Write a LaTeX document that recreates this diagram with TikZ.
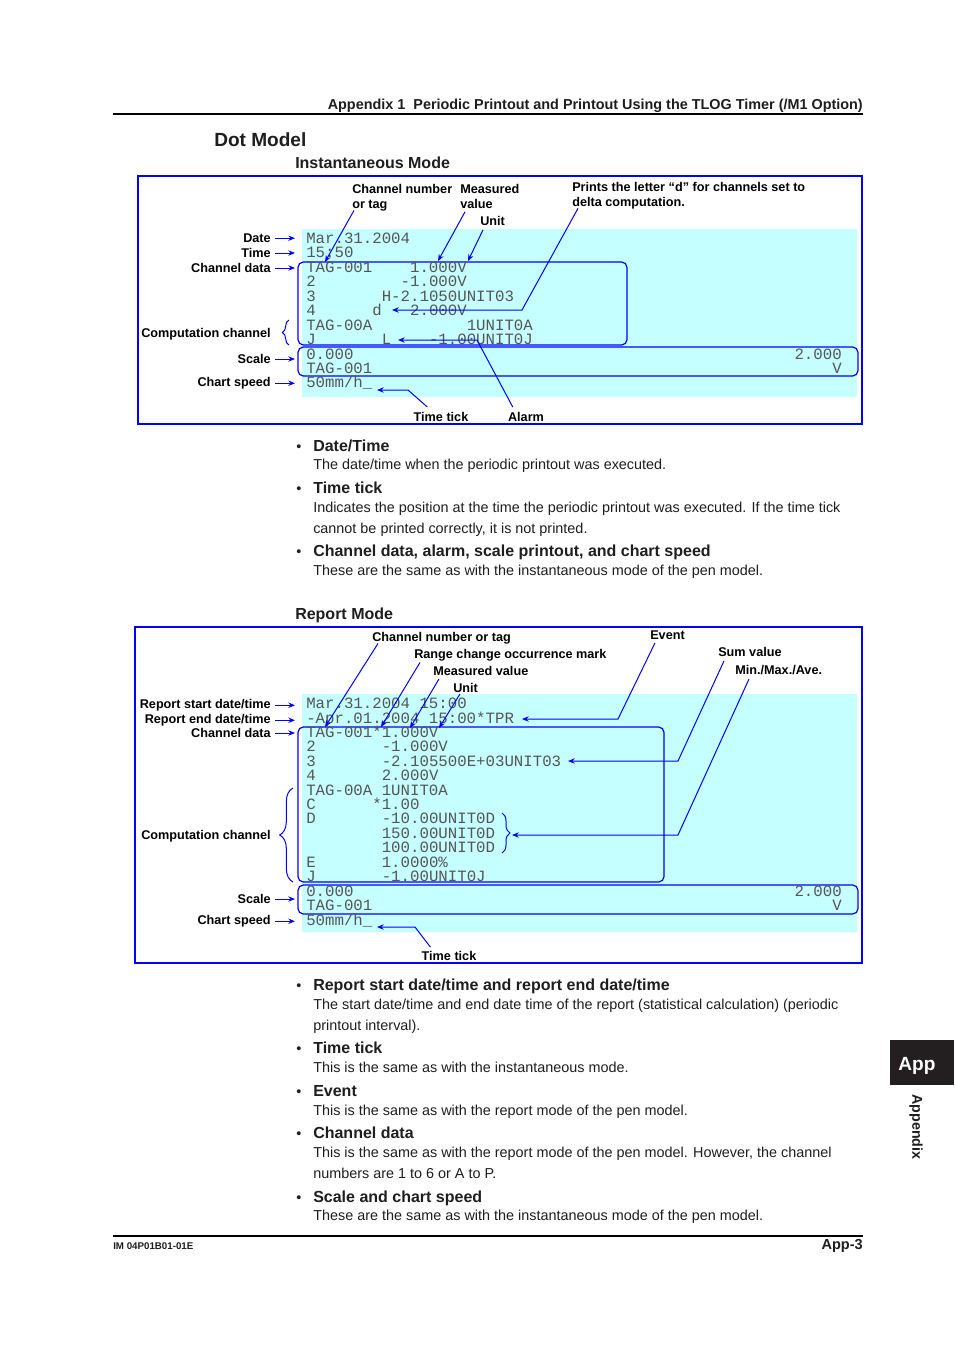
\documentclass[tikz,border=0pt]{standalone}
\usepackage{fontspec}
\setmainfont{Liberation Sans}
\setmonofont{Liberation Mono}
\usetikzlibrary{arrows.meta,decorations.pathreplacing}
\definecolor{prnblue}{RGB}{0,0,255}
\definecolor{papercyan}{RGB}{198,255,255}
\definecolor{inkgray}{RGB}{85,85,85}
\definecolor{bodyink}{RGB}{30,30,30}
\definecolor{tabblack}{RGB}{35,31,32}
\tikzset{
  lbl/.style={font=\bfseries\fontsize{9.5}{11.25}\selectfont, inner sep=0pt, yshift=-1.5pt},
  side/.style={lbl, anchor=mid east},
  tag/.style={lbl, anchor=mid west},
  foot/.style={font=\bfseries\fontsize{9.5}{11.25}\selectfont, inner sep=0pt},
  prn/.style={font=\ttfamily\fontsize{11.8}{13}\selectfont, text=inkgray, inner sep=0pt, anchor=mid west, yshift=-1.5pt},
  prnr/.style={prn, anchor=mid east},
  ptr/.style={-{Stealth[length=5pt,width=4pt]}, draw=prnblue, line width=0.75pt},
  sideptr/.style={ptr, shorten <=3pt},
  frame/.style={draw=prnblue, line width=1pt},
  grp/.style={draw=prnblue, line width=0.9pt, rounded corners=4pt},
  brc/.style={draw=prnblue, line width=0.75pt, decorate, decoration={brace, amplitude=#1}},
  head/.style={font=\bfseries\fontsize{12}{14}\selectfont, text=bodyink, inner sep=0pt, anchor=mid west, yshift=-1.5pt},
  body/.style={font=\fontsize{10.8}{13}\selectfont, text=bodyink, inner sep=0pt, anchor=mid west, yshift=-1.5pt},
  bul/.style={font=\fontsize{10.8}{13}\selectfont, text=bodyink, inner sep=0pt, yshift=-1.5pt}
}

\begin{document}
\begin{tikzpicture}[x=0.75pt, y=-0.75pt]
  \useasboundingbox (0,0) rectangle (954,1350);
  \fill[white] (0,0) rectangle (954,1350);

  % page header
  \node[font=\bfseries\fontsize{10.8}{12}\selectfont, text=bodyink, inner sep=0pt, anchor=mid east, yshift=-1.5pt] (hdr) at (863,104) {Appendix 1\ \ Periodic Printout and Printout Using the TLOG Timer (/M1 Option)};
  \draw[line width=0.8pt] (113,114) -- (863,114);
  \node[font=\bfseries\fontsize{14.3}{16}\selectfont, text=bodyink, inner sep=0pt, anchor=mid west, yshift=-2pt] (dotmodel) at (214,140) {Dot Model};
  \node[head] (instmode) at (295,163) {Instantaneous Mode};

  % ---- instantaneous mode printout
  \draw[frame] (138,176) rectangle (862,424);
  \fill[papercyan] (302,229) rectangle (857,397);
  \draw[grp] (298,262) rectangle (627,345);
  \draw[grp] (298,347) rectangle (858,376);
  \node[prn] (t1) at (306,238) {Mar.31.2004};
  \node[prn] (t2) at (306,252) {15:50};
  \node[prn] (t3) at (306,267) {TAG-001~~~~1.000V};
  \node[prn] (t4) at (306,281) {2~~~~~~~~~-1.000V};
  \node[prn] (t5) at (306,296) {3~~~~~~~H-2.1050UNIT03};
  \node[prn] (t6) at (306,310) {4~~~~~~d~~~2.000V};
  \node[prn] (t7) at (306,325) {TAG-00A~~~~~~~~~~1UNIT0A};
  \node[prn] (t8) at (306,339) {J~~~~~~~L~~~~-1.00UNIT0J};
  \node[prn] (t9) at (306,354) {0.000};
  \node[prnr] (t9r) at (842,354) {2.000};
  \node[prn] (t10) at (306,368) {TAG-001};
  \node[prnr] (t10r) at (842,368) {V};
  \node[prn] (t11) at (306,382) {50mm/h\_};

  \coordinate (edge) at (295,0);
  \node[side] (sDate) at (271,237) {Date};
  \node[side] (sTime) at (271,252) {Time};
  \node[side] (sChan) at (271,267) {Channel data};
  \node[side] (sComp) at (271,332) {Computation channel};
  \node[side] (sScale) at (271,358) {Scale};
  \node[side] (sSpeed) at (271,381) {Chart speed};
  \draw[sideptr] (sDate.east) -- (sDate.east -| edge);
  \draw[sideptr] (sTime.east) -- (sTime.east -| edge);
  \draw[sideptr] (sChan.east) -- (sChan.east -| edge);
  \draw[sideptr] (sScale.east) -- (sScale.east -| edge);
  \draw[sideptr] (sSpeed.east) -- (sSpeed.east -| edge);
  \draw[brc=5pt] (289,345) -- (289,320);

  \node[lbl, anchor=north west, align=left] (cTag) at (352,182) {Channel number\\or tag};
  \node[lbl, anchor=north west, align=left] (cVal) at (460,182) {Measured\\value};
  \node[tag] (cUnit) at (480,220) {Unit};
  \node[lbl, anchor=north west, align=left] (cDelta) at (572,180) {Prints the letter “d” for channels set to\\delta computation.};
  \node[foot] (cTick) at (441,417) {Time tick};
  \node[foot] (cAlarm) at (526,417) {Alarm};
  \coordinate (aTag) at (325,262);
  \coordinate (aVal) at (438,261);
  \coordinate (aUnit) at (468,261);
  \coordinate (kDelta) at (522,310);
  \coordinate (aDelta) at (392,310);
  \coordinate (kAlarm) at (477,340);
  \coordinate (aAlarm) at (398,340);
  \coordinate (kTick) at (408,390);
  \coordinate (aTick) at (377,390);
  \draw[ptr] ([shift={(2,-1)}]cTag.south west) -- (aTag);
  \draw[ptr] ([shift={(5,3)}]cVal.south west) -- (aVal);
  \draw[ptr] ([shift={(3,4)}]cUnit.south west) -- (aUnit);
  \draw[ptr] ([shift={(6,-1)}]cDelta.south west) -- (kDelta) -- (aDelta);
  \draw[ptr] ([shift={(5,-5)}]cAlarm.north west) -- (kAlarm) -- (aAlarm);
  \draw[ptr] ([shift={(14,-5)}]cTick.north west) -- (kTick) -- (aTick);

  % notes, instantaneous mode
  \node[bul] (u1) at (299,446) {•};
  \node[head] (h1) at (313,446) {Date/Time};
  \node[body] (p1) at (313,464) {The date/time when the periodic printout was executed.};
  \node[bul] (u2) at (299,488) {•};
  \node[head] (h2) at (313,488) {Time tick};
  \node[body] (p2) at (313,507) {Indicates the position at the time the periodic printout was executed. If the time tick};
  \node[body] (p3) at (313,528) {cannot be printed correctly, it is not printed.};
  \node[bul] (u3) at (299,551) {•};
  \node[head] (h3) at (313,551) {Channel data, alarm, scale printout, and chart speed};
  \node[body] (p4) at (313,570) {These are the same as with the instantaneous mode of the pen model.};

  % ---- report mode printout
  \node[head] (repmode) at (295,614) {Report Mode};
  \draw[frame] (135,627) rectangle (862,963);
  \fill[papercyan] (302,694) rectangle (857,932);
  \draw[grp] (298,727) rectangle (664,882);
  \draw[grp] (298,885) rectangle (858,914);
  \node[prn] (r1) at (306,703) {Mar.31.2004~15:00};
  \node[prn] (r2) at (306,718) {-Apr.01.2004~15:00*TPR};
  \node[prn] (r3) at (306,732) {TAG-001*1.000V};
  \node[prn] (r4) at (306,746) {2~~~~~~~-1.000V};
  \node[prn] (r5) at (306,761) {3~~~~~~~-2.105500E+03UNIT03};
  \node[prn] (r6) at (306,775) {4~~~~~~~2.000V};
  \node[prn] (r7) at (306,790) {TAG-00A~1UNIT0A};
  \node[prn] (r8) at (306,804) {C~~~~~~*1.00};
  \node[prn] (r9) at (306,818) {D~~~~~~~-10.00UNIT0D};
  \node[prn] (r10) at (306,833) {~~~~~~~~150.00UNIT0D};
  \node[prn] (r11) at (306,847) {~~~~~~~~100.00UNIT0D};
  \node[prn] (r12) at (306,862) {E~~~~~~~1.0000\%};
  \node[prn] (r13) at (306,876) {J~~~~~~~-1.00UNIT0J};
  \node[prn] (r14) at (306,891) {0.000};
  \node[prnr] (r14r) at (842,891) {2.000};
  \node[prn] (r15) at (306,905) {TAG-001};
  \node[prnr] (r15r) at (842,905) {V};
  \node[prn] (r16) at (306,920) {50mm/h\_};

  \node[side] (rStart) at (271,703) {Report start date/time};
  \node[side] (rEnd) at (271,718) {Report end date/time};
  \node[side] (rChan) at (271,732) {Channel data};
  \node[side] (rComp) at (271,834) {Computation channel};
  \node[side] (rScale) at (271,898) {Scale};
  \node[side] (rSpeed) at (271,919) {Chart speed};
  \draw[sideptr] (rStart.east) -- (rStart.east -| edge);
  \draw[sideptr] (rEnd.east) -- (rEnd.east -| edge);
  \draw[sideptr] (rChan.east) -- (rChan.east -| edge);
  \draw[sideptr] (rScale.east) -- (rScale.east -| edge);
  \draw[sideptr] (rSpeed.east) -- (rSpeed.east -| edge);
  \draw[brc=10pt] (293,882) -- (293,788);
  \draw[brc=6pt] (502,813) -- (502,853);

  \node[tag] (dTag) at (372,636) {Channel number or tag};
  \node[tag] (dRange) at (414,653) {Range change occurrence mark};
  \node[tag] (dVal) at (433,670) {Measured value};
  \node[tag] (dUnit) at (453,687) {Unit};
  \node[tag] (dEvent) at (650,634) {Event};
  \node[tag] (dSum) at (718,651) {Sum value};
  \node[tag] (dMma) at (735,669) {Min./Max./Ave.};
  \node[foot] (dTick) at (449,956) {Time tick};
  \coordinate (bTag) at (325,727);
  \coordinate (bRange) at (381,727);
  \coordinate (bVal) at (410,728);
  \coordinate (bUnit) at (439,728);
  \coordinate (kEvent) at (618,719);
  \coordinate (bEvent) at (522,719);
  \coordinate (kSum) at (678,761);
  \coordinate (bSum) at (568,761);
  \coordinate (kMma) at (678,835);
  \coordinate (bMma) at (512,835);
  \coordinate (kTick2) at (415,927);
  \coordinate (bTick2) at (377,927);
  \draw[ptr] ([shift={(6,-1)}]dTag.south west) -- (bTag);
  \draw[ptr] ([shift={(6,1)}]dRange.south west) -- (bRange);
  \draw[ptr] ([shift={(6,3)}]dVal.south west) -- (bVal);
  \draw[ptr] ([shift={(7,1)}]dUnit.south west) -- (bUnit);
  \draw[ptr] ([shift={(5,3)}]dEvent.south west) -- (kEvent) -- (bEvent);
  \draw[ptr] ([shift={(6,4)}]dSum.south west) -- (kSum) -- (bSum);
  \draw[ptr] ([shift={(14,4)}]dMma.south west) -- (kMma) -- (bMma);
  \draw[ptr] ([shift={(9,-4)}]dTick.north west) -- (kTick2) -- (bTick2);

  % notes, report mode
  \node[bul] (v1) at (299,985) {•};
  \node[head] (g1) at (313,985) {Report start date/time and report end date/time};
  \node[body] (q1) at (313,1004) {The start date/time and end date time of the report (statistical calculation) (periodic};
  \node[body] (q2) at (313,1025) {printout interval).};
  \node[bul] (v2) at (299,1048) {•};
  \node[head] (g2) at (313,1048) {Time tick};
  \node[body] (q3) at (313,1067) {This is the same as with the instantaneous mode.};
  \node[bul] (v3) at (299,1091) {•};
  \node[head] (g3) at (313,1091) {Event};
  \node[body] (q4) at (313,1110) {This is the same as with the report mode of the pen model.};
  \node[bul] (v4) at (299,1133) {•};
  \node[head] (g4) at (313,1133) {Channel data};
  \node[body] (q5) at (313,1152) {This is the same as with the report mode of the pen model. However, the channel};
  \node[body] (q6) at (313,1173) {numbers are 1 to 6 or A to P.};
  \node[bul] (v5) at (299,1197) {•};
  \node[head] (g5) at (313,1197) {Scale and chart speed};
  \node[body] (q7) at (313,1215) {These are the same as with the instantaneous mode of the pen model.};

  % side tab and footer
  \fill[tabblack] (890,1040) rectangle (954,1085);
  \node[font=\bfseries\fontsize{14.3}{16}\selectfont, text=white, inner sep=0pt, yshift=-1.5pt] (apptab) at (917,1064) {App};
  \node[font=\bfseries\fontsize{10.7}{12}\selectfont, text=bodyink, inner sep=0pt, rotate=-90] (appx) at (916,1127) {Appendix};
  \draw[line width=0.8pt] (113,1236) -- (863,1236);
  \node[font=\bfseries\fontsize{7.3}{9}\selectfont, text=bodyink, inner sep=0pt, anchor=mid west, yshift=-1pt] (docno) at (113,1245) {IM 04P01B01-01E};
  \node[font=\bfseries\fontsize{10.9}{12}\selectfont, text=bodyink, inner sep=0pt, anchor=mid east, yshift=-1.5pt] (pageno) at (863,1244) {App-3};
\end{tikzpicture}
\end{document}
